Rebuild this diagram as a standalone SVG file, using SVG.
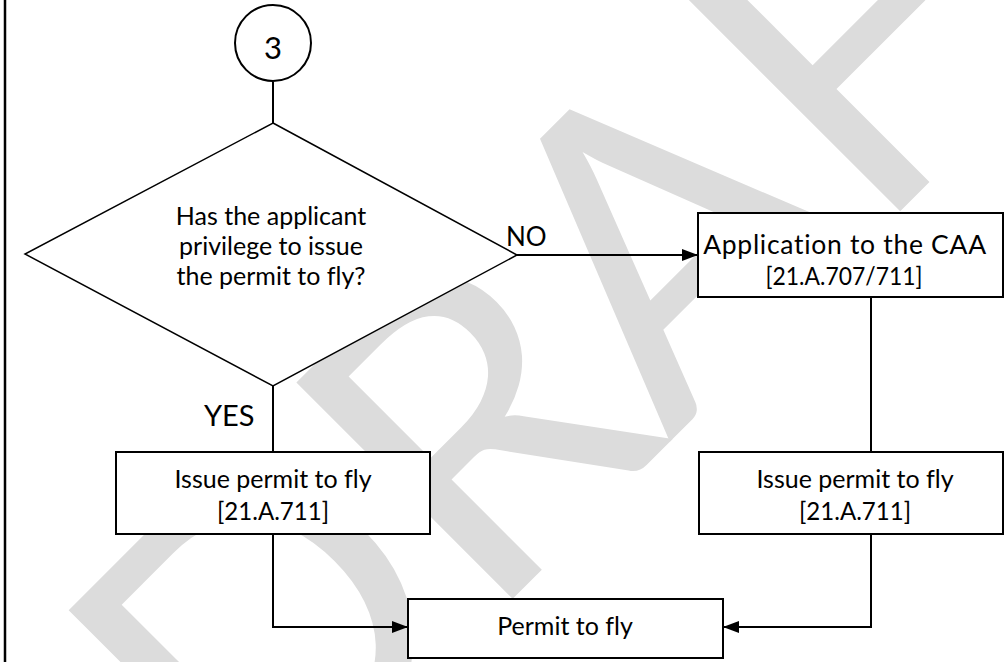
<svg xmlns="http://www.w3.org/2000/svg" width="1004" height="662" viewBox="0 0 1004 662">
<style>
.wm{font-family:Lato,"Liberation Sans",sans-serif;font-size:427px;fill:#dcdcdc}
.box{fill:#fff;stroke:#000;stroke-width:2}
.dia{fill:#fff;stroke:#000;stroke-width:1.5}
.t{font-family:Lato,"Liberation Sans",sans-serif;font-size:25px;fill:#000;text-anchor:middle;font-variant-ligatures:none}
.lab{font-family:Lato,"Liberation Sans",sans-serif;fill:#000}
.c{fill:none;stroke:#000;stroke-width:2}
</style>
<defs>
<marker id="ah" markerUnits="userSpaceOnUse" markerWidth="16" markerHeight="12" refX="16" refY="6" orient="auto">
<path d="M0,0 L16,6 L0,12 Z" fill="#000"/>
</marker>
</defs>
<rect width="1004" height="662" fill="#fff"/>
<text class="wm" x="-422 -100 160 448 674" y="786" transform="rotate(-45)">DRAFT</text>
<line x1="5" y1="0" x2="5" y2="662" stroke="#000" stroke-width="2.5"/>
<g id="connectors">
<line class="c" x1="273" y1="82" x2="273" y2="123"/>
<line class="c" x1="517" y1="255" x2="698" y2="255" marker-end="url(#ah)"/>
<line class="c" x1="273" y1="386" x2="273" y2="452"/>
<line class="c" x1="871" y1="297" x2="871" y2="452"/>
<polyline class="c" points="273,534 273,627 408,627" marker-end="url(#ah)"/>
<polyline class="c" points="871,534 871,627 723,627" marker-end="url(#ah)"/>
<text class="lab" x="506" y="246" font-size="26">NO</text>
<text class="lab" x="204" y="426" font-size="29">YES</text>
</g>
<g id="start">
<circle cx="273" cy="43" r="38" fill="#fff" stroke="#000" stroke-width="2"/>
<text class="t" x="273" y="59" style="font-size:31px">3</text>
</g>
<g id="decision">
<polygon class="dia" points="273,123 517,255 273,386 25,254"/>
<text class="t" x="271" y="225">Has the applicant</text>
<text class="t" x="271" y="255">privilege to issue</text>
<text class="t" x="271" y="285">the permit to fly?</text>
</g>
<g id="application">
<rect class="box" x="698" y="213" width="305" height="84"/>
<text class="t" x="845" y="254" style="font-size:26.5px;letter-spacing:0.7px">Application to the CAA</text>
<text class="t" x="844" y="285" textLength="157" lengthAdjust="spacingAndGlyphs">[21.A.707/711]</text>
</g>
<g id="issue-left">
<rect class="box" x="116" y="452" width="314" height="82"/>
<text class="t" x="273" y="488">Issue permit to fly</text>
<text class="t" x="273" y="520" textLength="112" lengthAdjust="spacingAndGlyphs">[21.A.711]</text>
</g>
<g id="issue-right">
<rect class="box" x="699" y="452" width="304" height="82"/>
<text class="t" x="855" y="488">Issue permit to fly</text>
<text class="t" x="855" y="520" textLength="112" lengthAdjust="spacingAndGlyphs">[21.A.711]</text>
</g>
<g id="permit">
<rect class="box" x="408" y="599" width="315" height="59"/>
<text class="t" x="565" y="635">Permit to fly</text>
</g>
</svg>
